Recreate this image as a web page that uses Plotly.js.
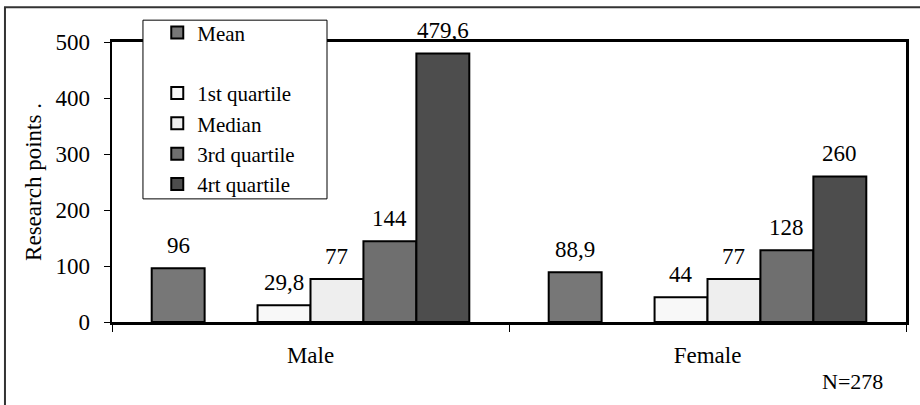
<!DOCTYPE html>
<html>
<head>
<meta charset="utf-8">
<script src="https://cdn.plot.ly/plotly-3.0.1.min.js"></script>
<style>
  html, body { margin: 0; padding: 0; background: #ffffff; }
  #chart { width: 920px; height: 405px; }
</style>
</head>
<body>
<div id="chart"></div>
<script>
// Research points by gender: mean and quartiles
const groups = ['Male', 'Female'];
const meanValues = [96, 88.9];
const q1Values = [29.8, 44];
const medianValues = [77, 77];
const q3Values = [144, 128];
const q4Values = [479.6, 260];
const sampleNote = 'N=278';

// decimal comma for the value labels
const fmt = v => String(v).replace('.', ',');

const serif = 'Liberation Serif';
const outline = { color: '#000000', width: 2 };

const W = 920, H = 405;
const margin = { l: 112, r: 14, t: 40, b: 83 };
const BARGAP = 0.2;

function barTrace(name, values, fill) {
  return {
    type: 'bar',
    name: name,
    x: groups,
    y: values,
    marker: { color: fill, line: outline },
    legendgroup: name,
    hoverinfo: 'x+y+name'
  };
}

// spacer series keeps an empty slot next to the mean bar and an empty legend row
const spacer = {
  type: 'bar',
  name: ' ',
  x: groups,
  y: [0, 0],
  marker: { color: 'rgba(0,0,0,0)', line: { width: 0 } },
  legendgroup: 'spacer',
  hoverinfo: 'skip'
};

const data = [
  barTrace('Mean', meanValues, '#777777'),
  spacer,
  barTrace('1st quartile', q1Values, '#f8f8f8'),
  barTrace('Median', medianValues, '#eeeeee'),
  barTrace('3rd quartile', q3Values, '#6f6f6f'),
  barTrace('4rt quartile', q4Values, '#4d4d4d')
];

// value labels sit above each bar, shifted sideways to that bar's slot in the group
const nSlots = data.length;
const slotWidth = (W - margin.l - margin.r) / groups.length * (1 - BARGAP) / nSlots;
const valueLabels = [];
data.forEach((tr, i) => {
  if (tr === spacer) return;
  tr.y.forEach((v, j) => {
    valueLabels.push({
      x: groups[j], y: v, xref: 'x', yref: 'y',
      text: fmt(v), showarrow: false,
      xanchor: 'center', yanchor: 'bottom',
      xshift: (i - (nSlots - 1) / 2) * slotWidth,
      yshift: 8,
      font: { family: serif, size: 23, color: '#000000' }
    });
  });
});

const layout = {
  width: W,
  height: H,
  margin: margin,
  paper_bgcolor: '#ffffff',
  plot_bgcolor: '#ffffff',
  font: { family: serif, size: 23, color: '#000000' },
  barmode: 'group',
  bargap: BARGAP,
  bargroupgap: 0,
  showlegend: true,
  legend: {
    x: 0.057, xanchor: 'left',
    y: 1.106, yanchor: 'top',
    bgcolor: 'rgba(0,0,0,0)',
    borderwidth: 0,
    traceorder: 'grouped',
    tracegroupgap: 0,
    font: { family: serif, size: 21, color: '#000000' }
  },
  xaxis: {
    type: 'category',
    showgrid: false,
    zeroline: false,
    showline: true,
    linecolor: '#000000',
    linewidth: 3,
    mirror: true,
    ticks: 'outside',
    tickson: 'boundaries',
    ticklen: 7,
    tickwidth: 1,
    tickcolor: '#000000',
    ticklabelstandoff: 10,
    tickfont: { family: serif, size: 23, color: '#000000' }
  },
  yaxis: {
    range: [0, 500],
    dtick: 100,
    showgrid: false,
    zeroline: false,
    showline: true,
    linecolor: '#000000',
    linewidth: 2.5,
    mirror: true,
    ticks: 'outside',
    ticklen: 6,
    tickwidth: 1,
    tickcolor: '#000000',
    ticklabelstandoff: 9,
    tickfont: { family: serif, size: 23, color: '#000000' },
    title: { text: 'Research points .', font: { family: serif, size: 23, color: '#000000' }, standoff: 8 }
  },
  shapes: [
    // chart frame
    { type: 'rect', xref: 'paper', yref: 'paper', layer: 'below',
      x0: -0.1348, x1: 1.03, y0: -0.35, y1: 1.1241,
      line: { color: '#333333', width: 2 }, fillcolor: 'rgba(0,0,0,0)' },
    // legend box
    { type: 'rect', xref: 'paper', yref: 'paper', layer: 'above',
      x0: 0.039, x1: 0.2708, y0: 0.4397, y1: 1.078,
      line: { color: '#000000', width: 1 }, fillcolor: '#ffffff' }
  ],
  annotations: valueLabels.concat([
    { text: sampleNote, xref: 'paper', yref: 'paper', x: 0.933, y: -0.2128,
      xanchor: 'center', yanchor: 'middle', showarrow: false,
      font: { family: serif, size: 22, color: '#000000' } }
  ])
};

Plotly.newPlot('chart', data, layout, { displayModeBar: false, staticPlot: true });
</script>
</body>
</html>
